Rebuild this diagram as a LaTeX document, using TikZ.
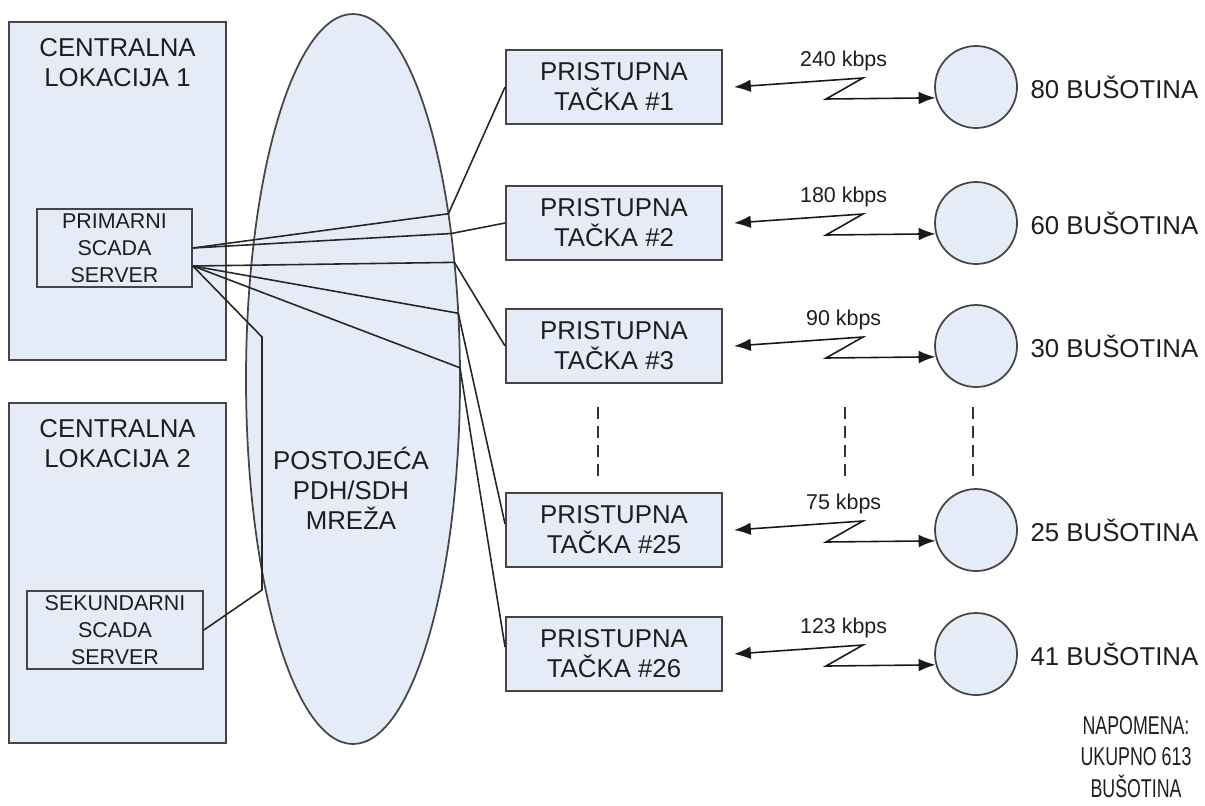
\documentclass[tikz,border=0pt]{standalone}
\usepackage{fontspec}
\setmainfont{Liberation Sans}
\newfontfamily\notefont[FakeStretch=0.69]{Liberation Sans}
\usepackage{xcolor}
\usepackage{tikz}
\usetikzlibrary{
  positioning,
  arrows.meta,
  calc,
  shapes.geometric
}
\definecolor{boxfill}{RGB}{230,236,247}
\definecolor{boxline}{RGB}{70,70,70}
\definecolor{txt}{RGB}{30,30,30}

\begin{document}
\begin{tikzpicture}[
    >={Latex[length=4.8pt,width=3.6pt]},
    every node/.style={text=txt},
    bigfont/.style={font=\fontsize{7.34}{8.54}\selectfont},
    smallfont/.style={font=\fontsize{6.1}{7.7}\selectfont},
    locbox/.style={draw=boxline, line width=0.55pt, fill=boxfill, inner sep=0pt, minimum width=2.17cm},
    srvbox/.style={draw=boxline, line width=0.5pt, fill=boxfill, smallfont, align=center, inner sep=0pt, minimum height=0.78cm},
    ptbox/.style={draw=boxline, line width=0.55pt, fill=boxfill, bigfont, align=center, inner sep=0pt, minimum width=2.16cm, minimum height=0.74cm},
    netw/.style={ellipse, draw=boxline, line width=0.5pt, fill=boxfill, inner sep=0pt, outer sep=0pt, minimum width=2.14cm, minimum height=7.30cm},
    well/.style={circle, draw=boxline, line width=0.5pt, fill=boxfill, inner sep=0pt, minimum size=0.82cm},
    wire/.style={draw=black!85, line width=0.45pt},
    link/.style={black!90, line width=0.45pt, <->},
    rate/.style={smallfont, inner sep=0pt},
    skipline/.style={black!80, line width=0.4pt, dash pattern=on 0.12cm off 0.07cm}
]
    \useasboundingbox (0,0) rectangle (12.05,-8.05);

    % 中心位置
    \node[locbox, minimum height=3.38cm] (loc1) at (1.175,-1.91) {};
    \node[bigfont, align=center, inner sep=0pt] (loc1txt) at ($(loc1.north)+(0,-0.415)$) {CENTRALNA\\LOKACIJA 1};
    \node[locbox, minimum height=3.40cm] (loc2) at (1.175,-5.73) {};
    \node[bigfont, align=center, inner sep=0pt] (loc2txt) at ($(loc2.north)+(0,-0.415)$) {CENTRALNA\\LOKACIJA 2};

    \node[srvbox, minimum width=1.55cm] (psrv) at (1.145,-2.48) {PRIMARNI\\SCADA\\SERVER};
    \node[srvbox, minimum width=1.76cm] (ssrv) at (1.15,-6.30) {SEKUNDARNI\\SCADA\\SERVER};

    % 传输网
    \node[netw] (net) at (3.53,-3.79) {};
    \node[bigfont, align=center, inner sep=0pt] (nettxt) at (3.51,-4.88) {POSTOJEĆA\\PDH/SDH\\MREŽA};

    % 接入点与井
    \foreach \n/\y/\kb/\cnt in {1/0.87/240/80, 2/2.23/180/60, 3/3.46/90/30, 25/5.30/75/25, 26/6.54/123/41}{
        \node[ptbox] (pt\n) at (6.14,-\y) {PRISTUPNA\\TAČKA \#\n};
        \node[well] (w\n) at (9.76,-\y) {};
        \node[bigfont, inner sep=0pt, right=0.12cm of w\n] (wl\n) {\cnt\ BUŠOTINA};
        \draw[link] ($(pt\n.east)+(0.11,0)$) -- ++(1.29,0.09)
            node[rate, pos=0.85, above=0.08cm] (r\n) {\kb\ kbps}
            -- ++(-0.37,-0.21) -- (w\n.195);
    }

    % 连线
    \coordinate (pb) at ($(psrv.east)+(0,-0.18)$);
    \draw[wire] (psrv.east) -- (net.60.8) -- (pt1.west);
    \draw[wire] (psrv.east) -- (net.56) -- (pt2.west);
    \draw[wire] (pb) -- (net.49.2) -- (pt3.west);
    \draw[wire] (pb) -- (net.32.8) -- ($(pt25.west)+(0,0.06)$);
    \draw[wire] (pb) -- (net.6.5) -- ($(pt26.west)+(0,0.07)$);
    \draw[wire] (pb) -- (2.62,-3.37) -- (2.62,-5.90) -- (ssrv.east);

    % 省略号
    \foreach \x in {5.98, 8.45, 9.73}
        \draw[skipline] (\x,-4.07) -- (\x,-4.76);

    \node[font=\notefont\fontsize{7.34}{8.96}\selectfont, align=center, inner sep=0pt] (note) at (11.36,-7.57) {NAPOMENA:\\UKUPNO 613\\BUŠOTINA};
\end{tikzpicture}
\end{document}
